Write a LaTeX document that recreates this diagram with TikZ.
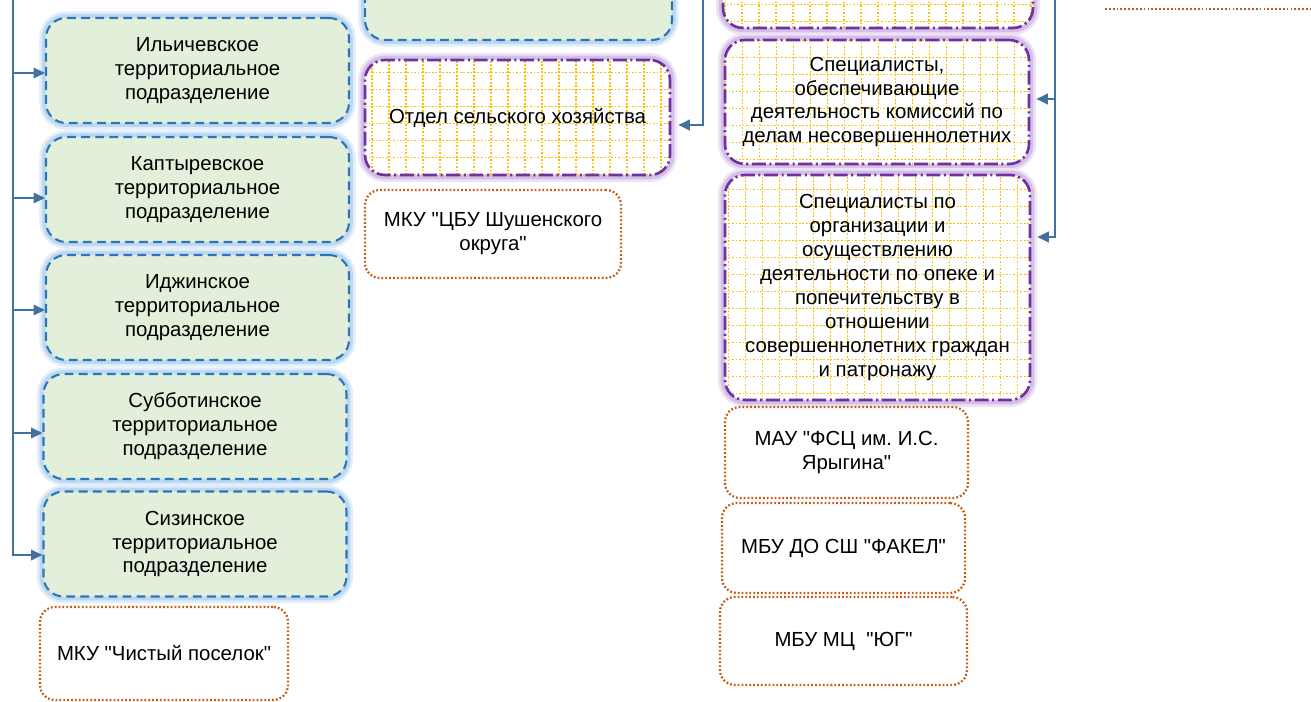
\documentclass[tikz,border=0pt]{standalone}
\usepackage{fontspec}
\setmainfont{Liberation Sans}
\newfontfamily\orgfont{Liberation Sans}
\usetikzlibrary{arrows.meta}

\definecolor{linkblue}{HTML}{41719C}
\definecolor{boxblue}{HTML}{2E75B6}
\definecolor{glowblue}{HTML}{BCD8F2}
\definecolor{boxgreen}{HTML}{E2EFDA}
\definecolor{boxpurple}{HTML}{7030A0}
\definecolor{glowpurple}{HTML}{D4C0E6}
\definecolor{gridyellow}{HTML}{FFC000}
\definecolor{boxorange}{HTML}{C55A11}

\tikzset{
  every node/.style={font=\orgfont\fontsize{11.6}{13.6}\selectfont\frenchspacing, align=center},
  terrbox/.style={rectangle, rounded corners=0.4cm, draw=boxblue, fill=boxgreen,
    line width=1.2pt, dash pattern=on 5pt off 3pt,
    preaction={draw=glowblue!45, line width=7.5pt, solid},
    preaction={draw=glowblue, line width=4.5pt, solid},
    minimum width=6.06cm, minimum height=2.1cm},
  deptbox/.style={rectangle, rounded corners=0.4cm, draw=boxpurple, fill=white,
    line width=1.5pt, dash pattern=on 8pt off 2pt on 1.2pt off 2pt,
    preaction={draw=glowpurple!45, line width=8pt, solid},
    preaction={draw=glowpurple, line width=5pt, solid},
    path picture={\draw[gridyellow, line width=0.6pt, dash pattern=on 1pt off 1pt, step=0.34cm]
      (path picture bounding box.south west) grid (path picture bounding box.north east);}},
  orgbox/.style={rectangle, rounded corners=0.3cm, draw=boxorange,
    line width=1.3pt, dash pattern=on 1pt off 1.2pt},
  link/.style={draw=linkblue, line width=1.1pt, -{Triangle[length=6.5pt,width=6pt]}},
}

\begin{document}
\begin{tikzpicture}
  \useasboundingbox (0,0) rectangle (26.22,-14.04);
  \clip (0,0) rectangle (26.22,-14.04);

  % Territorial subdivisions
  \node[terrbox] (ilich) at (3.95,-1.41) {Ильичевское\\территориальное\\подразделение};
  \node[terrbox] (kapt) at (3.95,-3.79) {Каптыревское\\территориальное\\подразделение};
  \node[terrbox] (idzh) at (3.95,-6.15) {Иджинское\\территориальное\\подразделение};
  \node[terrbox] (subb) at (3.9,-8.53) {Субботинское\\территориальное\\подразделение};
  \node[terrbox] (sizin) at (3.9,-10.88) {Сизинское\\территориальное\\подразделение};
  \node[orgbox, minimum width=4.96cm, minimum height=1.86cm] (chist) at (3.28,-13.07) {МКУ "Чистый поселок"};

  % Middle column
  \node[terrbox, minimum width=6.14cm] (upperterr) at (10.37,0.25) {};
  \node[deptbox, minimum width=6.1cm, minimum height=2.3cm] (otdel) at (10.35,-2.35) {Отдел сельского хозяйства};
  \node[orgbox, minimum width=5.12cm, minimum height=1.76cm] (cbu) at (9.86,-4.68) {МКУ "ЦБУ Шушенского\\округа"};

  % Right column
  \node[deptbox, minimum width=6.2cm, minimum height=2.3cm] (upperspec) at (17.56,0.59) {};
  \node[deptbox, minimum width=6.08cm, minimum height=2.48cm] (spec1) at (17.54,-2.04)
    {Специалисты,\\обеспечивающие\\деятельность комиссий по\\делам несовершеннолетних};
  \node[deptbox, minimum width=6.1cm, minimum height=4.5cm] (spec2) at (17.55,-5.75)
    {Специалисты по\\организации и\\осуществлению\\деятельности по опеке и\\попечительству в\\отношении\\совершеннолетних граждан\\и патронажу};
  \node[orgbox, minimum width=4.86cm, minimum height=1.82cm] (fsc) at (16.93,-9.05) {МАУ "ФСЦ им. И.С.\\Ярыгина"};
  \node[orgbox, minimum width=4.86cm, minimum height=1.8cm] (fakel) at (16.87,-10.96) {МБУ ДО СШ "ФАКЕЛ"};
  \node[orgbox, minimum width=4.94cm, minimum height=1.76cm] (yug) at (16.87,-12.82) {МБУ МЦ~~"ЮГ"};

  % Edge of a box beyond the top
  \draw[boxorange, line width=1.3pt, dash pattern=on 1pt off 1.2pt] (22.1,-0.18) -- (26.22,-0.18);

  % Connectors
  \coordinate (lefttop) at (0.26,0);
  \coordinate (midtop) at (14.06,0);
  \coordinate (righttop) at (21.1,0);

  \draw[link] (lefttop) |- ([yshift=-0.05cm]ilich.west);
  \draw[link] (lefttop) |- ([yshift=-0.17cm]kapt.west);
  \draw[link] (lefttop) |- ([yshift=-0.05cm]idzh.west);
  \draw[link] (lefttop) |- ([yshift=-0.13cm]subb.west);
  \draw[link] (lefttop) |- ([yshift=-0.22cm]sizin.west);

  \draw[link, shorten >=0.14cm] (midtop) |- ([yshift=-0.15cm]otdel.east);

  \draw[link, shorten >=0.12cm] (righttop) |- ([yshift=0.06cm]spec1.east);
  \draw[link, shorten >=0.12cm] (righttop) |- ([yshift=1.01cm]spec2.east);
\end{tikzpicture}
\end{document}
